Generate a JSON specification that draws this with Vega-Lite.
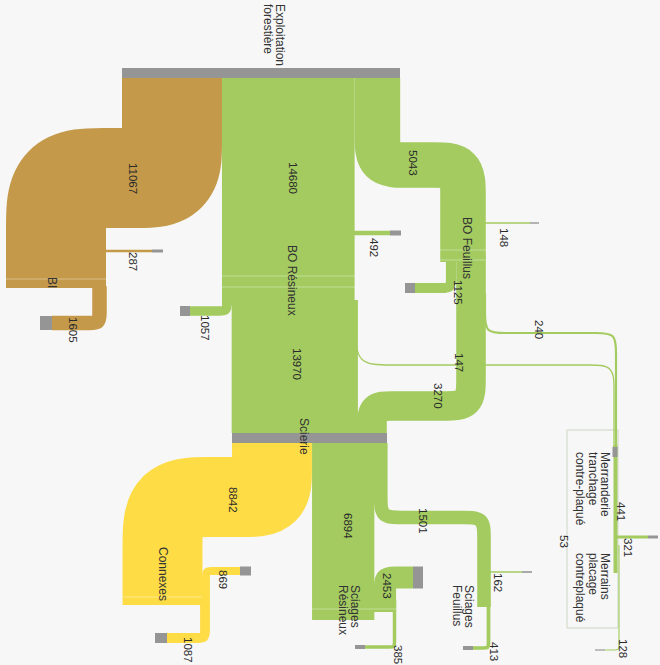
{
  "$schema": "https://vega.github.io/schema/vega-lite/v6.json",
  "width": 660,
  "height": 665,
  "autosize": {"type": "fit", "contains": "padding"},
  "padding": 0,
  "background": "#f7f7f7",
  "config": {"view": {"stroke": null}},
  "datasets": {
    "paths": [
      {"id":"BI","t":"bi","v":11067,"i":0,"x":172,"y":78},{"id":"BI","t":"bi","v":11067,"i":1,"x":172,"y":108},{"id":"BI","t":"bi","v":11067,"i":2,"x":172,"y":143},{"id":"BI","t":"bi","v":11067,"i":3,"x":172,"y":178},{"id":"BI","t":"bi","v":11067,"i":4,"x":137,"y":178},{"id":"BI","t":"bi","v":11067,"i":5,"x":106,"y":178},{"id":"BI","t":"bi","v":11067,"i":6,"x":56,"y":178},{"id":"BI","t":"bi","v":11067,"i":7,"x":56,"y":228},{"id":"BI","t":"bi","v":11067,"i":8,"x":56,"y":268},{"id":"BI","t":"bi","v":11067,"i":9,"x":56,"y":288},
      {"id":"BI1605","t":"bi","v":1605,"i":0,"x":99.5,"y":286},{"id":"BI1605","t":"bi","v":1605,"i":1,"x":99.5,"y":303},{"id":"BI1605","t":"bi","v":1605,"i":2,"x":99.5,"y":313},{"id":"BI1605","t":"bi","v":1605,"i":3,"x":99.5,"y":323},{"id":"BI1605","t":"bi","v":1605,"i":4,"x":89.5,"y":323},{"id":"BI1605","t":"bi","v":1605,"i":5,"x":79.5,"y":323},{"id":"BI1605","t":"bi","v":1605,"i":6,"x":52,"y":323},
      {"id":"BI287","t":"bi","v":287,"i":0,"x":100,"y":251},{"id":"BI287","t":"bi","v":287,"i":1,"x":152,"y":251},
      {"id":"BOR","t":"bo","v":14680,"i":0,"x":288.3,"y":78},{"id":"BOR","t":"bo","v":14680,"i":1,"x":288.3,"y":305},
      {"id":"BORS","t":"bo","v":13970,"i":0,"x":294.8,"y":300},{"id":"BORS","t":"bo","v":13970,"i":1,"x":294.8,"y":433},
      {"id":"BOR1057","t":"bo","v":1057,"i":0,"x":227,"y":295},{"id":"BOR1057","t":"bo","v":1057,"i":1,"x":227,"y":303},{"id":"BOR1057","t":"bo","v":1057,"i":2,"x":227,"y":311},{"id":"BOR1057","t":"bo","v":1057,"i":3,"x":219,"y":311},{"id":"BOR1057","t":"bo","v":1057,"i":4,"x":211,"y":311},{"id":"BOR1057","t":"bo","v":1057,"i":5,"x":190,"y":311},
      {"id":"BOR492","t":"bo","v":492,"i":0,"x":350,"y":233},{"id":"BOR492","t":"bo","v":492,"i":1,"x":390,"y":233},
      {"id":"BOF","t":"bo","v":5043,"i":0,"x":377.4,"y":78},{"id":"BOF","t":"bo","v":5043,"i":1,"x":377.4,"y":105},{"id":"BOF","t":"bo","v":5043,"i":2,"x":377.4,"y":135},{"id":"BOF","t":"bo","v":5043,"i":3,"x":377.4,"y":165},{"id":"BOF","t":"bo","v":5043,"i":4,"x":407.4,"y":165},{"id":"BOF","t":"bo","v":5043,"i":5,"x":433,"y":165},{"id":"BOF","t":"bo","v":5043,"i":6,"x":463,"y":165},{"id":"BOF","t":"bo","v":5043,"i":7,"x":463,"y":195},{"id":"BOF","t":"bo","v":5043,"i":8,"x":463,"y":225},{"id":"BOF","t":"bo","v":5043,"i":9,"x":463,"y":262},
      {"id":"BOFS","t":"bo","v":3270,"i":0,"x":471,"y":255},{"id":"BOFS","t":"bo","v":3270,"i":1,"x":471,"y":351},{"id":"BOFS","t":"bo","v":3270,"i":2,"x":471,"y":378},{"id":"BOFS","t":"bo","v":3270,"i":3,"x":471,"y":406},{"id":"BOFS","t":"bo","v":3270,"i":4,"x":443,"y":406},{"id":"BOFS","t":"bo","v":3270,"i":5,"x":412,"y":406},{"id":"BOFS","t":"bo","v":3270,"i":6,"x":392,"y":406},{"id":"BOFS","t":"bo","v":3270,"i":7,"x":372,"y":406},{"id":"BOFS","t":"bo","v":3270,"i":8,"x":372,"y":426},{"id":"BOFS","t":"bo","v":3270,"i":9,"x":372,"y":436},
      {"id":"BOF1125","t":"bo","v":1125,"i":0,"x":451,"y":255},{"id":"BOF1125","t":"bo","v":1125,"i":1,"x":451,"y":268},{"id":"BOF1125","t":"bo","v":1125,"i":2,"x":451,"y":278},{"id":"BOF1125","t":"bo","v":1125,"i":3,"x":451,"y":288},{"id":"BOF1125","t":"bo","v":1125,"i":4,"x":441,"y":288},{"id":"BOF1125","t":"bo","v":1125,"i":5,"x":431,"y":288},{"id":"BOF1125","t":"bo","v":1125,"i":6,"x":415,"y":288},
      {"id":"BOF148","t":"bo","v":148,"i":0,"x":480,"y":223},{"id":"BOF148","t":"bo","v":148,"i":1,"x":530,"y":223},
      {"id":"BOF240","t":"bo","v":240,"i":0,"x":485,"y":293},{"id":"BOF240","t":"bo","v":240,"i":1,"x":485,"y":313},{"id":"BOF240","t":"bo","v":240,"i":2,"x":485,"y":333},{"id":"BOF240","t":"bo","v":240,"i":3,"x":505,"y":333},{"id":"BOF240","t":"bo","v":240,"i":4,"x":525,"y":333},{"id":"BOF240","t":"bo","v":240,"i":5,"x":576,"y":333},{"id":"BOF240","t":"bo","v":240,"i":6,"x":596,"y":333},{"id":"BOF240","t":"bo","v":240,"i":7,"x":616,"y":333},{"id":"BOF240","t":"bo","v":240,"i":8,"x":616,"y":353},{"id":"BOF240","t":"bo","v":240,"i":9,"x":616,"y":373},{"id":"BOF240","t":"bo","v":240,"i":10,"x":616,"y":447},
      {"id":"BOR147","t":"bo","v":147,"i":0,"x":356,"y":305},{"id":"BOR147","t":"bo","v":147,"i":1,"x":356,"y":330},{"id":"BOR147","t":"bo","v":147,"i":2,"x":356,"y":365},{"id":"BOR147","t":"bo","v":147,"i":3,"x":391,"y":365},{"id":"BOR147","t":"bo","v":147,"i":4,"x":426,"y":365},{"id":"BOR147","t":"bo","v":147,"i":5,"x":564,"y":365},{"id":"BOR147","t":"bo","v":147,"i":6,"x":589,"y":365},{"id":"BOR147","t":"bo","v":147,"i":7,"x":614,"y":365},{"id":"BOR147","t":"bo","v":147,"i":8,"x":614,"y":390},{"id":"BOR147","t":"bo","v":147,"i":9,"x":614,"y":415},{"id":"BOR147","t":"bo","v":147,"i":10,"x":614,"y":447},
      {"id":"MER","t":"bo","v":441,"i":0,"x":615.5,"y":445},{"id":"MER","t":"bo","v":441,"i":1,"x":615.5,"y":573},
      {"id":"MER321","t":"bo","v":321,"i":0,"x":615,"y":537},{"id":"MER321","t":"bo","v":321,"i":1,"x":648,"y":537},
      {"id":"MER128","t":"bo","v":128,"i":0,"x":619,"y":545},{"id":"MER128","t":"bo","v":128,"i":1,"x":619,"y":640},{"id":"MER128","t":"bo","v":128,"i":2,"x":619,"y":645},{"id":"MER128","t":"bo","v":128,"i":3,"x":619,"y":650},{"id":"MER128","t":"bo","v":128,"i":4,"x":614,"y":650},{"id":"MER128","t":"bo","v":128,"i":5,"x":609,"y":650},{"id":"MER128","t":"bo","v":128,"i":6,"x":605,"y":650},
      {"id":"CX","t":"cx","v":8842,"i":0,"x":272,"y":443},{"id":"CX","t":"cx","v":8842,"i":1,"x":272,"y":470},{"id":"CX","t":"cx","v":8842,"i":2,"x":272,"y":497},{"id":"CX","t":"cx","v":8842,"i":3,"x":245,"y":497},{"id":"CX","t":"cx","v":8842,"i":4,"x":212.5,"y":497},{"id":"CX","t":"cx","v":8842,"i":5,"x":162.5,"y":497},{"id":"CX","t":"cx","v":8842,"i":6,"x":162.5,"y":547},{"id":"CX","t":"cx","v":8842,"i":7,"x":162.5,"y":590},{"id":"CX","t":"cx","v":8842,"i":8,"x":162.5,"y":605},
      {"id":"CX869","t":"cx","v":869,"i":0,"x":206,"y":600},{"id":"CX869","t":"cx","v":869,"i":1,"x":206,"y":583},{"id":"CX869","t":"cx","v":869,"i":2,"x":206,"y":577},{"id":"CX869","t":"cx","v":869,"i":3,"x":206,"y":571},{"id":"CX869","t":"cx","v":869,"i":4,"x":212,"y":571},{"id":"CX869","t":"cx","v":869,"i":5,"x":218,"y":571},{"id":"CX869","t":"cx","v":869,"i":6,"x":240,"y":571},
      {"id":"CX1087","t":"cx","v":1087,"i":0,"x":205,"y":600},{"id":"CX1087","t":"cx","v":1087,"i":1,"x":205,"y":622},{"id":"CX1087","t":"cx","v":1087,"i":2,"x":205,"y":630},{"id":"CX1087","t":"cx","v":1087,"i":3,"x":205,"y":638},{"id":"CX1087","t":"cx","v":1087,"i":4,"x":197,"y":638},{"id":"CX1087","t":"cx","v":1087,"i":5,"x":189,"y":638},{"id":"CX1087","t":"cx","v":1087,"i":6,"x":167,"y":638},
      {"id":"SR","t":"bo","v":6894,"i":0,"x":343.2,"y":443},{"id":"SR","t":"bo","v":6894,"i":1,"x":343.2,"y":620},
      {"id":"SR2453","t":"bo","v":2453,"i":0,"x":385,"y":612},{"id":"SR2453","t":"bo","v":2453,"i":1,"x":385,"y":597.5},{"id":"SR2453","t":"bo","v":2453,"i":2,"x":385,"y":587.5},{"id":"SR2453","t":"bo","v":2453,"i":3,"x":385,"y":577.5},{"id":"SR2453","t":"bo","v":2453,"i":4,"x":395,"y":577.5},{"id":"SR2453","t":"bo","v":2453,"i":5,"x":405,"y":577.5},{"id":"SR2453","t":"bo","v":2453,"i":6,"x":413,"y":577.5},
      {"id":"SR385","t":"bo","v":385,"i":0,"x":394.5,"y":600},{"id":"SR385","t":"bo","v":385,"i":1,"x":394.5,"y":637},{"id":"SR385","t":"bo","v":385,"i":2,"x":394.5,"y":642},{"id":"SR385","t":"bo","v":385,"i":3,"x":394.5,"y":647},{"id":"SR385","t":"bo","v":385,"i":4,"x":389.5,"y":647},{"id":"SR385","t":"bo","v":385,"i":5,"x":384.5,"y":647},{"id":"SR385","t":"bo","v":385,"i":6,"x":365,"y":647},
      {"id":"SF","t":"bo","v":1501,"i":0,"x":380.8,"y":443},{"id":"SF","t":"bo","v":1501,"i":1,"x":380.8,"y":477.5},{"id":"SF","t":"bo","v":1501,"i":2,"x":380.8,"y":497.5},{"id":"SF","t":"bo","v":1501,"i":3,"x":380.8,"y":517.5},{"id":"SF","t":"bo","v":1501,"i":4,"x":400.8,"y":517.5},{"id":"SF","t":"bo","v":1501,"i":5,"x":420.8,"y":517.5},{"id":"SF","t":"bo","v":1501,"i":6,"x":444,"y":517.5},{"id":"SF","t":"bo","v":1501,"i":7,"x":464,"y":517.5},{"id":"SF","t":"bo","v":1501,"i":8,"x":484,"y":517.5},{"id":"SF","t":"bo","v":1501,"i":9,"x":484,"y":537.5},{"id":"SF","t":"bo","v":1501,"i":10,"x":484,"y":557.5},{"id":"SF","t":"bo","v":1501,"i":11,"x":484,"y":607},
      {"id":"SF162","t":"bo","v":162,"i":0,"x":489,"y":572},{"id":"SF162","t":"bo","v":162,"i":1,"x":522,"y":572},
      {"id":"SF413","t":"bo","v":413,"i":0,"x":488.5,"y":600},{"id":"SF413","t":"bo","v":413,"i":1,"x":488.5,"y":638},{"id":"SF413","t":"bo","v":413,"i":2,"x":488.5,"y":643},{"id":"SF413","t":"bo","v":413,"i":3,"x":488.5,"y":648},{"id":"SF413","t":"bo","v":413,"i":4,"x":483.5,"y":648},{"id":"SF413","t":"bo","v":413,"i":5,"x":478.5,"y":648},{"id":"SF413","t":"bo","v":413,"i":6,"x":473,"y":648}
    ],
    "nodes": [
      {"x":122,"x2":400,"y":68,"y2":78},
      {"x":232,"x2":387,"y":433,"y2":443},
      {"x":152,"x2":163,"y":249.5,"y2":252.5},
      {"x":40,"x2":52,"y":316,"y2":330},
      {"x":180,"x2":190,"y":306,"y2":316},
      {"x":390,"x2":401,"y":230.5,"y2":235.5},
      {"x":530,"x2":539,"y":222.3,"y2":223.7},
      {"x":405,"x2":415,"y":283,"y2":293},
      {"x":612.5,"x2":617.5,"y":447,"y2":457},
      {"x":648,"x2":658,"y":535.5,"y2":538.5},
      {"x":595,"x2":605,"y":649.4,"y2":650.6},
      {"x":240,"x2":251,"y":566.5,"y2":575.5},
      {"x":155,"x2":167,"y":633,"y2":643},
      {"x":413,"x2":423,"y":566.5,"y2":588.5},
      {"x":355,"x2":365,"y":645,"y2":649},
      {"x":522,"x2":532,"y":571.2,"y2":572.8},
      {"x":463,"x2":473,"y":646,"y2":650}
    ],
    "seams": [
      {"x":6,"x2":106,"y":279},
      {"x":222,"x2":355,"y":276},
      {"x":222,"x2":355,"y":287},
      {"x":440,"x2":486,"y":250},
      {"x":440,"x2":486,"y":260},
      {"x":123,"x2":202,"y":597},
      {"x":312,"x2":396,"y":609}
    ],
    "box": [{"x":567,"x2":618,"y":430,"y2":628}],
    "names": [
      {"x":280,"y":4,"t":"Exploitation|forestière"},
      {"x":292,"y":245,"t":"BO Résineux"},
      {"x":52,"y":277,"t":"BI"},
      {"x":467,"y":217,"t":"BO Feuillus"},
      {"x":304,"y":418,"t":"Scierie"},
      {"x":163,"y":547,"t":"Connexes"},
      {"x":355,"y":585,"t":"Sciages|Résineux"},
      {"x":469,"y":585,"t":"Sciages|Feuillus"},
      {"x":605,"y":452,"t":"Merranderie|tranchage|contre-plaqué"},
      {"x":605,"y":553,"t":"Merrains|placage|contreplaqué"}
    ],
    "nums": [
      {"x":132,"y":163,"t":"11067"},
      {"x":292,"y":162,"t":"14680"},
      {"x":132,"y":252,"t":"287"},
      {"x":72,"y":317,"t":"1605"},
      {"x":204,"y":315,"t":"1057"},
      {"x":373,"y":238,"t":"492"},
      {"x":296,"y":348,"t":"13970"},
      {"x":412,"y":150,"t":"5043"},
      {"x":503,"y":228,"t":"148"},
      {"x":457,"y":280,"t":"1125"},
      {"x":538,"y":320,"t":"240"},
      {"x":458,"y":353,"t":"147"},
      {"x":437,"y":383,"t":"3270"},
      {"x":232,"y":487,"t":"8842"},
      {"x":222,"y":570,"t":"869"},
      {"x":187,"y":637,"t":"1087"},
      {"x":347,"y":513,"t":"6894"},
      {"x":422,"y":508,"t":"1501"},
      {"x":386,"y":573,"t":"2453"},
      {"x":497,"y":573,"t":"162"},
      {"x":397,"y":645,"t":"385"},
      {"x":493,"y":642,"t":"413"},
      {"x":620,"y":502,"t":"441"},
      {"x":627,"y":538,"t":"321"},
      {"x":563,"y":535,"t":"53"},
      {"x":622,"y":639,"t":"128"}
    ]
  },
  "layer": [
    {
      "data": {"name": "box"},
      "mark": {"type": "rect", "fill": null, "stroke": "#cdd6c2", "strokeWidth": 1},
      "encoding": {
        "x": {"field": "x", "type": "quantitative", "scale": {"domain": [0, 660], "nice": false, "zero": false}, "axis": null},
        "x2": {"field": "x2"},
        "y": {"field": "y", "type": "quantitative", "scale": {"domain": [0, 665], "reverse": true, "nice": false, "zero": false}, "axis": null},
        "y2": {"field": "y2"}
      }
    },
    {
      "data": {"name": "paths"},
      "mark": {"type": "line", "interpolate": "basis", "strokeCap": "butt", "strokeJoin": "round"},
      "encoding": {
        "x": {"field": "x", "type": "quantitative", "scale": {"domain": [0, 660], "nice": false, "zero": false}, "axis": null},
        "y": {"field": "y", "type": "quantitative", "scale": {"domain": [0, 665], "reverse": true, "nice": false, "zero": false}, "axis": null},
        "detail": {"field": "id"},
        "order": {"field": "i", "type": "quantitative"},
        "color": {"field": "t", "type": "nominal", "scale": {"domain": ["bi", "bo", "cx"], "range": ["#c49a4a", "#a3cb5f", "#fedc45"]}, "legend": null},
        "size": {"field": "v", "type": "quantitative", "scale": {"domain": [0, 10000], "range": [0, 90.36]}, "legend": null}
      }
    },
    {
      "data": {"name": "seams"},
      "mark": {"type": "rule", "color": "#ffffff", "strokeOpacity": 0.35, "strokeWidth": 1},
      "encoding": {
        "x": {"field": "x", "type": "quantitative", "scale": {"domain": [0, 660], "nice": false, "zero": false}, "axis": null},
        "x2": {"field": "x2"},
        "y": {"field": "y", "type": "quantitative", "scale": {"domain": [0, 665], "reverse": true, "nice": false, "zero": false}, "axis": null}
      }
    },
    {
      "data": {"name": "nodes"},
      "mark": {"type": "rect", "color": "#959595"},
      "encoding": {
        "x": {"field": "x", "type": "quantitative", "scale": {"domain": [0, 660], "nice": false, "zero": false}, "axis": null},
        "x2": {"field": "x2"},
        "y": {"field": "y", "type": "quantitative", "scale": {"domain": [0, 665], "reverse": true, "nice": false, "zero": false}, "axis": null},
        "y2": {"field": "y2"}
      }
    },
    {
      "data": {"name": "names"},
      "mark": {"type": "text", "angle": 90, "align": "left", "baseline": "middle", "font": "Liberation Sans", "fontSize": 12, "lineHeight": 12.5, "lineBreak": "|", "color": "#333333"},
      "encoding": {
        "x": {"field": "x", "type": "quantitative", "scale": {"domain": [0, 660], "nice": false, "zero": false}, "axis": null},
        "y": {"field": "y", "type": "quantitative", "scale": {"domain": [0, 665], "reverse": true, "nice": false, "zero": false}, "axis": null},
        "text": {"field": "t", "type": "nominal"}
      }
    },
    {
      "data": {"name": "nums"},
      "mark": {"type": "text", "angle": 90, "align": "left", "baseline": "middle", "font": "Liberation Sans", "fontSize": 11.5, "color": "#2a2a2a"},
      "encoding": {
        "x": {"field": "x", "type": "quantitative", "scale": {"domain": [0, 660], "nice": false, "zero": false}, "axis": null},
        "y": {"field": "y", "type": "quantitative", "scale": {"domain": [0, 665], "reverse": true, "nice": false, "zero": false}, "axis": null},
        "text": {"field": "t", "type": "nominal"}
      }
    }
  ]
}
